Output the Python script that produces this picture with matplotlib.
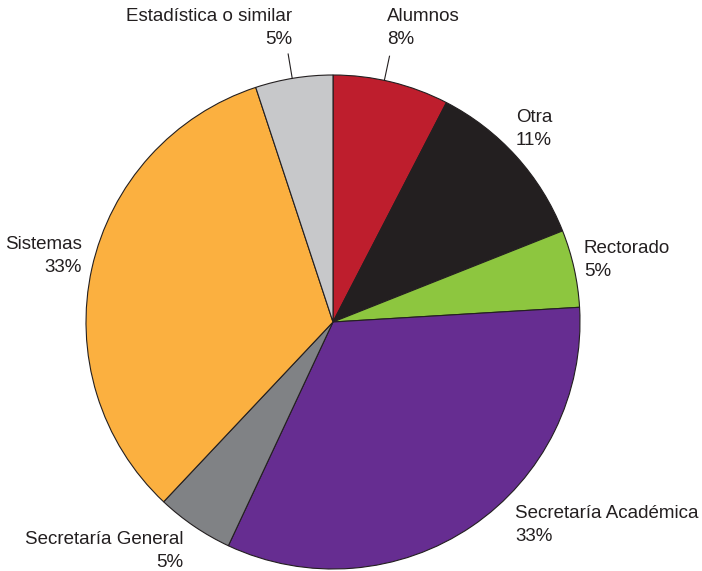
import numpy as np
import matplotlib
matplotlib.use("Agg")
import matplotlib.pyplot as plt

categories = ["Alumnos", "Otra", "Rectorado", "Secretaría Académica",
              "Secretaría General", "Sistemas", "Estadística o similar"]
counts = [6, 9, 4, 26, 4, 26, 4]
colors = ["#BE1E2D", "#231F20", "#8DC63F", "#662D91",
          "#808285", "#FBB040", "#C7C8CA"]

# label placement (data coords, pie radius = 1) and alignment
label_pos = [(0.219, 1.19), (0.741, 0.781), (1.016, 0.251), (0.737, -0.822),
             (-0.607, -0.927), (-1.016, 0.267), (-0.166, 1.19)]
label_ha = ["left", "left", "left", "left", "right", "right", "right"]
leader_angle = [78.0, None, None, None, None, None, 99.5]

plt.rcParams["font.family"] = ["Liberation Sans", "DejaVu Sans"]

fig = plt.figure(figsize=(7.02, 5.71), dpi=100)
W, H = 702, 571
cx, cy, R = 333, 322, 247
ax = fig.add_axes([(cx - R) / W, (H - cy - R) / H, 2 * R / W, 2 * R / H])
ax.axis("off")

wedges, _ = ax.pie(counts, colors=colors, startangle=90, counterclock=False,
                   radius=1, center=(0, 0), frame=False,
                   wedgeprops=dict(edgecolor="#231F20", linewidth=0.8))
ax.set_xlim(-1, 1)
ax.set_ylim(-1, 1)
ax.set_aspect("equal")

total = sum(counts)
for w, name, c, (x, y), ha, la in zip(wedges, categories, counts, label_pos, label_ha, leader_angle):
    pct = 100.0 * c / total
    ax.text(x, y, f"{name}\n{pct:.0f}%", ha=ha, va="center", multialignment=ha,
            fontsize=13.5, color="#231F20", clip_on=False, linespacing=1.42)
    if la is not None:
        th = np.deg2rad(la)
        ax.plot([np.cos(th), 1.1 * np.cos(th)], [np.sin(th), 1.1 * np.sin(th)],
                color="#231F20", lw=0.8, clip_on=False)

fig.savefig("out.png", dpi=100)
